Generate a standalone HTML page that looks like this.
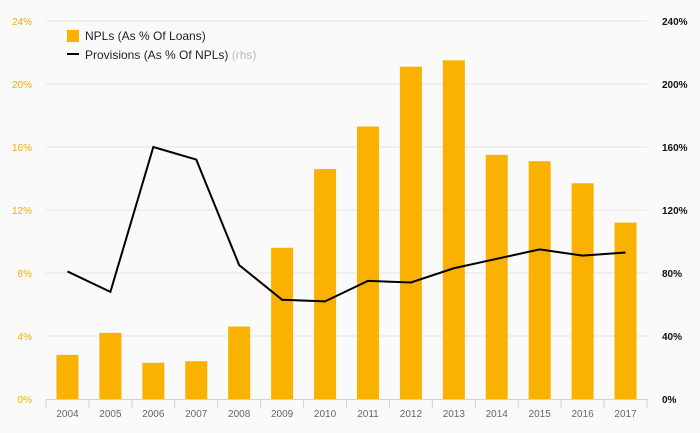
<!DOCTYPE html>
<html><head><meta charset="utf-8"><style>
html,body{margin:0;padding:0;background:#fafafa;}
svg{display:block;font-family:"Liberation Sans",sans-serif;}
</style></head><body>
<svg id="chart" width="700" height="433"></svg>
<script>
const categories=["2004","2005","2006","2007","2008","2009","2010","2011","2012","2013","2014","2015","2016","2017"];
const nplValues=[2.8,4.2,2.3,2.4,4.6,9.6,14.6,17.3,21.1,21.5,15.5,15.1,13.7,11.2];
const provisionValues=[81,68,160,152,85,63,62,75,74,83,89,95,91,93];
const leftTicks=[0,4,8,12,16,20,24];
const rightTicks=[0,40,80,120,160,200,240];
const NS="http://www.w3.org/2000/svg";
const svg=document.getElementById("chart");
const x0=46,x1=647,yBase=399,yTop=21;
const step=(x1-x0)/categories.length;
const xc=i=>x0+step*(i+0.5);
const yL=v=>yBase-(v/24)*(yBase-yTop);
const yR=v=>yBase-(v/240)*(yBase-yTop);
function mk(t,a,txt){const e=document.createElementNS(NS,t);for(const k in a)e.setAttribute(k,a[k]);if(txt!==undefined)e.textContent=txt;svg.appendChild(e);return e;}
leftTicks.forEach((t,i)=>{
  if(t>0){const g=mk("line",{x1:x0,x2:x1,y1:yL(t),y2:yL(t),stroke:"#e4e4e4","stroke-width":1});
  
  }
  const l=mk("text",{x:32,y:yL(t)+4,"text-anchor":"end","font-size":10,fill:"#f5ad00"},t+"%");
  
  
  const r=mk("text",{x:662,y:yR(rightTicks[i])+4,"font-size":10,fill:"#111","font-weight":"bold"},rightTicks[i]+"%");
  
  
});
categories.forEach((c,i)=>{
  const b=mk("rect",{x:xc(i)-11,y:yL(nplValues[i]),width:22,height:yBase-yL(nplValues[i]),fill:"#fbb100"});
  
  
  const t=mk("text",{x:xc(i),y:417,"text-anchor":"middle","font-size":10,fill:"#666"},c);
  
  
});
const ax=mk("line",{x1:x0,x2:x1,y1:yBase+0.5,y2:yBase+0.5,stroke:"#c8d4e6","stroke-width":1});


for(let i=0;i<=categories.length;i++){
  const tk=mk("line",{x1:x0+step*i,x2:x0+step*i,y1:yBase,y2:yBase+9,stroke:"#c8d4e6","stroke-width":1});
  
  
}
const pl=mk("polyline",{points:provisionValues.map((v,i)=>xc(i)+","+yR(v)).join(" "),fill:"none",stroke:"#000","stroke-width":2});


const s1=mk("rect",{x:67,y:30,width:12,height:12,fill:"#fbb100"});


const l1=mk("text",{x:85,y:40,"font-size":12,fill:"#222"},"NPLs (As % Of Loans)");


const s2=mk("rect",{x:67,y:53,width:12,height:2,fill:"#000"});


const l2=mk("text",{x:85,y:59,"font-size":12,fill:"#222"},"Provisions (As % Of NPLs) ");


const ts=document.createElementNS(NS,"tspan");ts.setAttribute("fill","#bbb");ts.textContent="(rhs)";l2.appendChild(ts);
</script>
</body></html>
